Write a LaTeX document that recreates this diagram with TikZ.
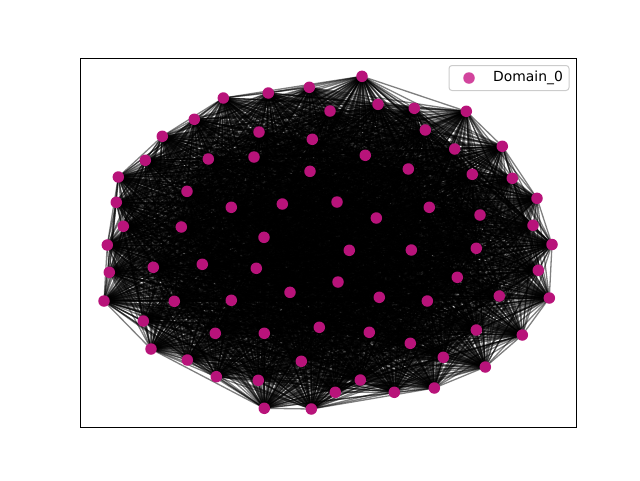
\documentclass[tikz,border=0pt]{standalone}
\usepackage{fontspec}
\setmainfont{DejaVu Sans}
\definecolor{nodecol}{HTML}{C71585}
\definecolor{nodedark}{HTML}{B8137A}
\tikzset{
  edge/.style={draw=black, line width=1.3pt, opacity=0.5},
  vertex/.style={circle, fill=nodedark, inner sep=0pt, minimum size=11.5pt},
  legvertex/.style={circle, fill=nodecol, fill opacity=0.8, inner sep=0pt, minimum size=11.5pt},
  frame/.style={draw=black, line width=1pt},
  legendbox/.style={draw=black!20, fill=white, fill opacity=0.8, rounded corners=3pt, line width=1pt}
}
\begin{document}
\begin{tikzpicture}[x=1pt,y=-1pt]
\useasboundingbox (0,0) rectangle (640,480);
\foreach \x/\y [count=\k] in {
223.3/98, 268.3/93, 309.3/87.3, 330/111, 194.3/119.3, 259/132, 312.3/139.3, 162.3/136.3,
145.3/160.3, 208.3/159, 254/157, 310/171.3, 118.3/177, 187/191.3, 231.3/207.3, 282.3/204,
116.3/202.3, 123.3/226.3, 181.3/227, 264/237.3, 107.3/245, 362/76.3, 378/104.3, 414.3/108.3,
466.3/111.3, 425.3/130, 502.3/146.3, 454.7/149, 365.3/155.3, 408.3/169, 512.3/178.3, 472.3/174.3,
537/198.3, 337/202, 429.3/207.3, 376.3/218, 480/215, 533/225.3, 552/244.5, 153.3/267.3,
202.3/264.3, 256.3/268.3, 109.3/272.3, 290/292.3, 104/301, 174.3/301.3, 231.3/300.3, 143.3/321,
215.3/333.3, 264.3/333.3, 319.3/327.3, 151/349, 187.3/360, 301.3/361.3, 216.3/376.7, 258.3/380.3,
264.3/408.3, 311.3/409, 349.3/250.3, 411.3/250, 476.3/248.3, 338/282, 457.3/277.3, 538.3/270.3,
379.3/297.3, 427.3/301, 499.3/296, 549.3/298, 369.3/332.3, 476.3/330, 522.3/335, 410.3/343.3,
443.3/357.3, 485.3/367, 360.3/380, 335.3/392.3, 394.3/392.3, 434.3/388}
  {\coordinate (p\k) at (\x,\y);}
\foreach \i in {1,...,77}{
  \pgfmathtruncatemacro\s{\i+1}
  \foreach \j in {\s,...,78}{\draw[edge] (p\i) -- (p\j);}
}
\foreach \k in {1,...,78}{\node[vertex] (n\k) at (p\k) {};}
\draw[frame] (80,58) rectangle (576,427);
\node[legendbox, minimum width=120pt, minimum height=25pt] (leg) at (509,78) {};
\node[legvertex] (legmark) at (469,78) {};
\node[anchor=west, inner sep=0pt, font=\fontsize{13.9}{16}\selectfont] (legtext) at (493,77.5) {Domain\_0};
\end{tikzpicture}
\end{document}
